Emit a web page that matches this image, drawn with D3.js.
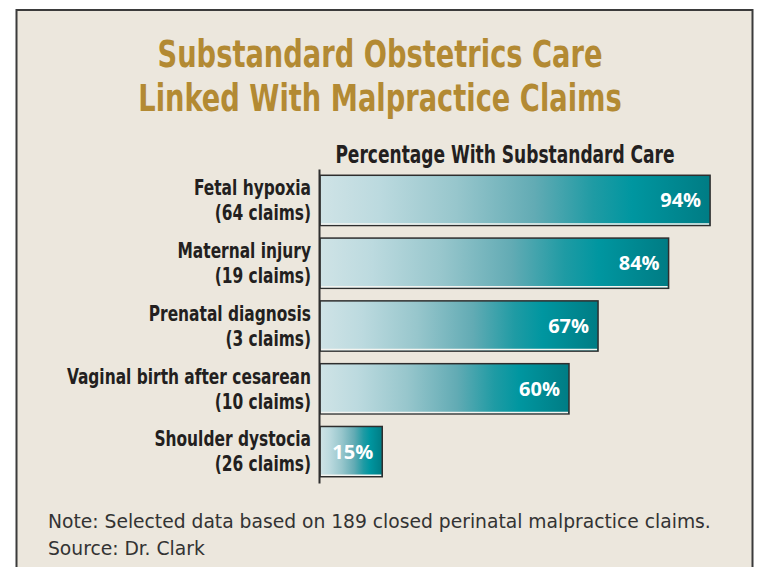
<!DOCTYPE html>
<html>
<head>
<meta charset="utf-8">
<title>Substandard Obstetrics Care</title>
<script src="https://d3js.org/d3.v7.min.js"></script>
<style>
  body { margin: 0; background: #fff; }
  .cond { font-family: "Liberation Sans Narrow", "DejaVu Sans Condensed", "Roboto", sans-serif; font-stretch: condensed; }
</style>
</head>
<body>
<svg id="chart"></svg>
<script>
    const categories = ["Fetal hypoxia", "Maternal injury", "Prenatal diagnosis", "Vaginal birth after cesarean", "Shoulder dystocia"];
    const claims = [64, 19, 3, 10, 26];
    const percents = [94, 84, 67, 60, 15];
    const titleLines = ["Substandard Obstetrics Care", "Linked With Malpractice Claims"];
    const subtitle = "Percentage With Substandard Care";
    const notes = ["Note: Selected data based on 189 closed perinatal malpractice claims.", "Source: Dr. Clark"];

    const WIDTH = 761, HEIGHT = 567;
    const bg = "#ece7dd", gold = "#b38a33", ink = "#231f20";

    // narrow the condensed type horizontally around an anchor x
    function squeeze(sel, sx, ax) {
        sel.attr("transform", "translate(" + (ax * (1 - sx)) + ",0) scale(" + sx + ",1)");
    }

    let svg = d3.select("#chart").attr("width", WIDTH).attr("height", HEIGHT);

    // panel
    svg.append("rect")
        .attr("x", 16.5).attr("y", 10)
        .attr("width", 736).attr("height", 620)
        .attr("fill", bg).attr("stroke", "#3b3b3b").attr("stroke-width", 2);

    // title
    let title = svg.append("g");
    title.selectAll("text")
        .data(titleLines).enter().append("text")
        .attr("class", "cond")
        .attr("x", 380)
        .attr("y", (d, i) => 67 + i * 44)
        .attr("text-anchor", "middle")
        .attr("font-size", 37).attr("font-weight", "bold")
        .attr("fill", gold)
        .text(d => d);
    squeeze(title, 0.82, 380);

    let sub = svg.append("text")
        .attr("class", "cond")
        .attr("x", 505).attr("y", 163)
        .attr("text-anchor", "middle")
        .attr("font-size", 24).attr("font-weight", "bold")
        .attr("fill", ink)
        .text(subtitle);
    squeeze(sub, 0.79, 505);

    let data = categories.map((c, i) => ({ name: c, claims: claims[i], pct: percents[i] }));

    let xScale = d3.scaleLinear().domain([0, 100]).range([320, 735]);
    let yScale = d3.scaleBand().domain(categories).range([169, 483])
        .paddingInner(0.2).paddingOuter(0.1);

    // gradient
    let defs = svg.append("defs");
    let grad = defs.append("linearGradient").attr("id", "barGrad")
        .attr("x1", "0%").attr("x2", "100%").attr("y1", "0%").attr("y2", "0%");
    [[0, "#cfe3e6"], [0.15, "#bcdadf"], [0.35, "#97c6cc"], [0.55, "#62abb4"],
     [0.7, "#1f9ba4"], [0.8, "#0096a0"], [1, "#007c84"]].forEach(s => {
        grad.append("stop").attr("offset", s[0]).attr("stop-color", s[1]);
    });

    let bars = svg.append("g").selectAll("g.bar")
        .data(data).enter().append("g").attr("class", "bar");

    bars.append("rect")
        .attr("x", xScale(0))
        .attr("y", d => yScale(d.name))
        .attr("width", d => xScale(d.pct) - xScale(0))
        .attr("height", yScale.bandwidth())
        .attr("fill", "url(#barGrad)")
        .attr("stroke", "#2e2e2e").attr("stroke-width", 1.5);

    // light line along bar bottom
    bars.append("line")
        .attr("x1", xScale(0) + 1)
        .attr("x2", d => xScale(d.pct) - 1)
        .attr("y1", d => yScale(d.name) + yScale.bandwidth() - 1.5)
        .attr("y2", d => yScale(d.name) + yScale.bandwidth() - 1.5)
        .attr("stroke", "#f4f4f0").attr("stroke-width", 1.5);

    bars.append("text")
        .attr("x", d => xScale(d.pct) - 9)
        .attr("y", d => yScale(d.name) + yScale.bandwidth() / 2 + 7)
        .attr("text-anchor", "end")
        .attr("font-family", "'Open Sans', sans-serif")
        .attr("font-size", 20).attr("font-weight", "bold")
        .attr("fill", "#fff")
        .text(d => d.pct + "%");

    // y axis line
    let axis = svg.append("g")
        .attr("transform", "translate(" + (xScale(0) - 1) + ",0)")
        .call(d3.axisLeft(yScale).tickSize(0).tickSizeOuter(0).tickFormat(""));
    axis.select(".domain").attr("stroke", "#2e2e2e").attr("stroke-width", 2);

    // category labels
    let labelG = svg.append("g");
    let labels = labelG.selectAll("text.cat")
        .data(data).enter().append("text")
        .attr("class", "cond")
        .attr("text-anchor", "end")
        .attr("font-size", 22).attr("font-weight", "bold")
        .attr("fill", ink);
    labels.append("tspan")
        .attr("x", 311)
        .attr("y", d => yScale(d.name) + 20)
        .text(d => d.name);
    labels.append("tspan")
        .attr("x", 311)
        .attr("y", d => yScale(d.name) + 45)
        .text(d => "(" + d.claims + " claims)");
    squeeze(labelG, 0.78, 311);

    // note
    let noteG = svg.append("g");
    noteG.selectAll("text")
        .data(notes).enter().append("text")
        .attr("class", "cond")
        .attr("x", 48)
        .attr("y", (d, i) => 528 + i * 27)
        .attr("font-size", 20)
        .attr("fill", "#333")
        .text(d => d);
    squeeze(noteG, 1.04, 48);
</script>
</body>
</html>
